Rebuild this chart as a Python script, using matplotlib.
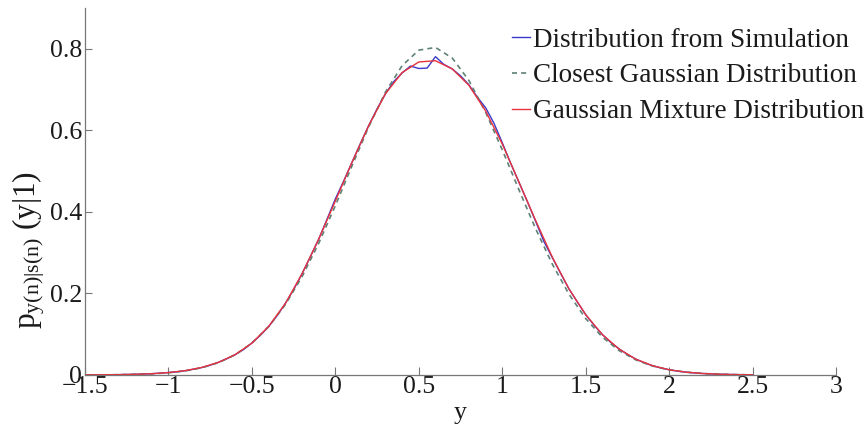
import numpy as np
import matplotlib
matplotlib.use("Agg")
import matplotlib.pyplot as plt

plt.rcParams['font.family'] = ['Liberation Serif', 'DejaVu Serif']
plt.rcParams['mathtext.fontset'] = 'custom'
plt.rcParams['mathtext.rm'] = 'Liberation Serif'
plt.rcParams['mathtext.it'] = 'Liberation Serif:italic'

# Coarse grid (step 0.1) for the two model curves
y_grid = np.round(np.arange(-1.5, 2.5001, 0.1), 2)

closest_gaussian = [
    0.0001, 0.0003, 0.0007, 0.0014, 0.0028, 0.0053, 0.0099, 0.0177, 0.0302, 0.0496,
    0.0782, 0.1185, 0.1724, 0.2408, 0.3228, 0.4155, 0.5134, 0.6092, 0.6940, 0.7590,
    0.7970, 0.8036, 0.7778, 0.7228, 0.6450, 0.5525, 0.4544, 0.3588, 0.2720, 0.1980,
    0.1384, 0.0928, 0.0598, 0.0370, 0.0220, 0.0125, 0.0069, 0.0036, 0.0018, 0.0009,
    0.0004,
]

gaussian_mixture = [
    0.0002, 0.0004, 0.0008, 0.0016, 0.0031, 0.0058, 0.0105, 0.0185, 0.0310, 0.0500,
    0.0780, 0.1190, 0.1750, 0.2480, 0.3330, 0.4270, 0.5220, 0.6120, 0.6900, 0.7420,
    0.7680, 0.7710, 0.7510, 0.7110, 0.6480, 0.5670, 0.4730, 0.3790, 0.2890, 0.2110,
    0.1480, 0.0990, 0.0635, 0.0388, 0.0228, 0.0128, 0.0069, 0.0036, 0.0018, 0.0009,
    0.0004,
]

# Finer grid (step 0.05) for the simulated histogram
y_sim = np.round(np.arange(-1.5, 2.5001, 0.05), 2)

simulation = [
    0.0002, 0.0003, 0.0004, 0.0006, 0.0008, 0.0012, 0.0016, 0.0023, 0.0031, 0.0043,
    0.0060, 0.0078, 0.0104, 0.0140, 0.0182, 0.0240, 0.0312, 0.0398, 0.0497, 0.0625,
    0.0785, 0.0970, 0.1185, 0.1450, 0.1755, 0.2095, 0.2480, 0.2900, 0.3330, 0.3820,
    0.4320, 0.4760, 0.5220, 0.5680, 0.6120, 0.6530, 0.6900, 0.7200, 0.7410, 0.7580,
    0.7520, 0.7530, 0.7810, 0.7620, 0.7510, 0.7340, 0.7120, 0.6820, 0.6560, 0.6180,
    0.5700, 0.5200, 0.4730, 0.4260, 0.3770, 0.3270, 0.2880, 0.2490, 0.2110, 0.1790,
    0.1480, 0.1220, 0.0990, 0.0800, 0.0640, 0.0505, 0.0390, 0.0300, 0.0228, 0.0172,
    0.0128, 0.0094, 0.0069, 0.0050, 0.0036, 0.0026, 0.0018, 0.0013, 0.0009, 0.0006,
    0.0004,
]

x_ticks = [-1.5, -1, -0.5, 0, 0.5, 1, 1.5, 2, 2.5, 3]
x_tick_labels = ['\u22121.5', '\u22121', '\u22120.5', '0', '0.5', '1', '1.5', '2', '2.5', '3']
y_ticks = [0, 0.2, 0.4, 0.6, 0.8]
y_tick_labels = ['0', '0.2', '0.4', '0.6', '0.8']

fig = plt.figure(figsize=(8.65, 4.3), dpi=100)
ax = fig.add_axes([0.0983, 0.128, 0.8682, 0.853])

ax.plot(y_sim, simulation, color='#3a3acc', lw=1.0, label='Distribution from Simulation')
ax.plot(y_grid, closest_gaussian, color='#5f8276', lw=1.2, ls=(0, (3.0, 2.5)),
        label='Closest Gaussian Distribution')
ax.plot(y_grid, gaussian_mixture, color='#e8323c', lw=1.0, label='Gaussian Mixture Distribution')

ax.set_xlim(-1.5, 3)
ax.set_ylim(0, 0.9)
ax.set_xticks(x_ticks)
ax.set_xticklabels(x_tick_labels)
ax.set_yticks(y_ticks)
ax.set_yticklabels(y_tick_labels)

for side in ('top', 'right'):
    ax.spines[side].set_visible(False)
for side in ('left', 'bottom'):
    ax.spines[side].set_color('#777777')
    ax.spines[side].set_linewidth(0.9)

ax.tick_params(axis='both', direction='in', colors='#777777', labelcolor='#1a1a1a',
               labelsize=18.5, width=0.8)
ax.tick_params(axis='x', length=6, pad=1)
ax.tick_params(axis='y', length=5, pad=2)

ax.set_xlabel('y', fontsize=18.5, color='#1a1a1a')
ax.xaxis.set_label_coords(0.5, -0.075)
ax.set_ylabel(r'$\mathrm{p}_{\mathrm{y(n)|s(n)}}\ \mathrm{(y|1)}$', fontsize=22.5,
              color='#1a1a1a')
ax.yaxis.set_label_coords(-0.051, 0.34)

leg = ax.legend(loc='upper left', bbox_to_anchor=(0.5686, 0.947), frameon=False,
                fontsize=19.5, handlelength=0.66, handletextpad=0.11,
                labelspacing=0.40, borderaxespad=0.0, borderpad=0.0)
for t in leg.get_texts():
    t.set_color('#1a1a1a')

fig.savefig('out.png', dpi=100)
